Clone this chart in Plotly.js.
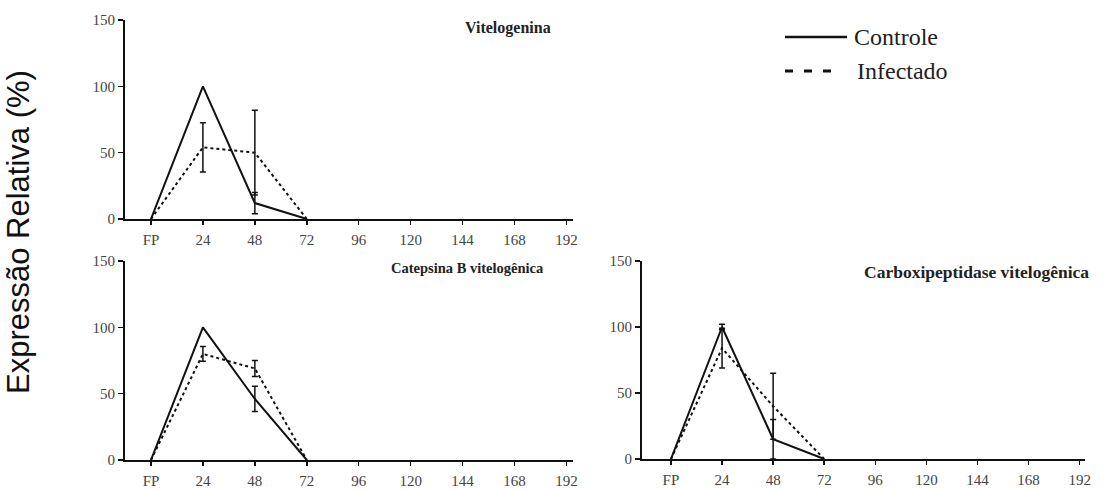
<!DOCTYPE html>
<html>
<head>
<meta charset="utf-8">
<script src="https://cdn.plot.ly/plotly-3.0.1.min.js"></script>
<style>html,body{margin:0;padding:0;background:#fff;}#chart{width:1112px;height:489px;}</style>
</head>
<body>
<div id="chart"></div>
<script>
// Hours after feeding (FP = 0)
const hours = [0, 24, 48, 72];
const tickVals = [0, 24, 48, 72, 96, 120, 144, 168, 192];
const tickText = ["FP", "24", "48", "72", "96", "120", "144", "168", "192"];
const yTicks = [0, 50, 100, 150];

// Vitelogenina (NaN = no error bar drawn)
const vitControle = [0, 100, 12, 0];
const vitControleErr = [NaN, NaN, 8, NaN];
const vitInfectado = [0, 54, 50, 0];
const vitInfectadoErr = [NaN, 18.5, 32, NaN];

// Catepsina B vitelogênica
const catControle = [0, 100, 46, 0];
const catControleErr = [NaN, NaN, 9.5, NaN];
const catInfectado = [0, 80, 69, 0];
const catInfectadoErr = [NaN, 5.5, 6, NaN];

// Carboxipeptidase vitelogênica
const carControle = [0, 100, 15, 0];
const carControleErr = [NaN, 2, 15, NaN];
const carInfectado = [0, 84, 40, 0];
const carInfectadoErr = [NaN, 15, 25, NaN];

const panelTitles = ["Vitelogenina", "Catepsina B vitelogênica", "Carboxipeptidase vitelogênica"];
const seriesNames = ["Controle", "Infectado"];
const yLabel = "Expressão Relativa (%)";

const W = 1112, H = 489;
const px = v => v / W;
const py = v => 1 - v / H;

function mk(x, y, err, dash, xa, ya, name) {
  return {
    type: 'scatter', mode: 'lines', x: x, y: y, name: name,
    xaxis: xa, yaxis: ya, showlegend: false,
    line: {color: '#111', width: 2, dash: dash ? '3px,3px' : 'solid'},
    error_y: {type: 'data', array: err, visible: true, color: '#111', thickness: 1.5, width: 3},
    cliponaxis: false
  };
}

const data = [
  mk(hours, vitControle, vitControleErr, false, 'x', 'y', seriesNames[0]),
  mk(hours, vitInfectado, vitInfectadoErr, true, 'x', 'y', seriesNames[1]),
  mk(hours, catControle, catControleErr, false, 'x2', 'y2', seriesNames[0]),
  mk(hours, catInfectado, catInfectadoErr, true, 'x2', 'y2', seriesNames[1]),
  mk(hours, carControle, carControleErr, false, 'x3', 'y3', seriesNames[0]),
  mk(hours, carInfectado, carInfectadoErr, true, 'x3', 'y3', seriesNames[1])
];

const tickFont = {family: 'Liberation Serif, Times New Roman, serif', size: 15, color: '#444'};
function xax(domain, range, anchor) {
  return {domain: domain, range: range, anchor: anchor, tickvals: tickVals, ticktext: tickText,
    showline: true, linewidth: 2, linecolor: '#111', ticks: 'outside', ticklen: 4, tickwidth: 1.5,
    tickcolor: '#111', showgrid: false, zeroline: false, tickfont: tickFont, ticklabelstandoff: 2, fixedrange: true};
}
function yax(domain, anchor) {
  return {domain: domain, range: [0, 150], anchor: anchor, tickvals: yTicks,
    showline: true, linewidth: 2, linecolor: '#111', ticks: 'outside', ticklen: 5, tickwidth: 1.5,
    tickcolor: '#111', showgrid: false, zeroline: false, tickfont: tickFont, fixedrange: true};
}

const serif = 'Liberation Serif, Times New Roman, serif';
const legFont = {family: serif, size: 24, color: '#222'};

const layout = {
  width: W, height: H,
  margin: {l: 0, r: 0, t: 0, b: 0},
  paper_bgcolor: '#fff', plot_bgcolor: '#fff',
  showlegend: false,
  xaxis: xax([px(125), px(573)], [-12, 195], 'y'),
  yaxis: yax([py(219), py(20)], 'x'),
  xaxis2: xax([px(125), px(573)], [-12, 195], 'y2'),
  yaxis2: yax([py(460), py(261)], 'x2'),
  xaxis3: xax([px(642), px(1085)], [-13.6, 194.5], 'y3'),
  yaxis3: yax([py(459), py(261)], 'x3'),
  annotations: [
    {text: '<b>' + panelTitles[0] + '</b>', xref: 'paper', yref: 'paper', x: px(553), y: py(28), xanchor: 'right', yanchor: 'middle', showarrow: false, font: {family: serif, size: 16, color: '#222'}},
    {text: '<b>' + panelTitles[1] + '</b>', xref: 'paper', yref: 'paper', x: px(546), y: py(268), xanchor: 'right', yanchor: 'middle', showarrow: false, font: {family: serif, size: 14.5, color: '#222'}},
    {text: '<b>' + panelTitles[2] + '</b>', xref: 'paper', yref: 'paper', x: px(1091), y: py(272), xanchor: 'right', yanchor: 'middle', showarrow: false, font: {family: serif, size: 17.5, color: '#222'}},
    {text: seriesNames[0], xref: 'paper', yref: 'paper', x: px(852), y: py(37), xanchor: 'left', yanchor: 'middle', showarrow: false, font: legFont},
    {text: seriesNames[1], xref: 'paper', yref: 'paper', x: px(855), y: py(71), xanchor: 'left', yanchor: 'middle', showarrow: false, font: legFont},
    {text: yLabel, xref: 'paper', yref: 'paper', x: px(18), y: py(232), xanchor: 'center', yanchor: 'middle', textangle: -90, showarrow: false,
     font: {family: 'Liberation Sans, Arial, sans-serif', size: 31, color: '#111'}}
  ],
  shapes: [
    {type: 'line', xref: 'paper', yref: 'paper', x0: px(785), x1: px(847), y0: py(37), y1: py(37), line: {color: '#111', width: 2.5}},
    {type: 'line', xref: 'paper', yref: 'paper', x0: px(785), x1: px(831), y0: py(71), y1: py(71), line: {color: '#111', width: 3, dash: '8px,11px'}}
  ]
};

Plotly.newPlot('chart', data, layout, {displayModeBar: false, staticPlot: true});
</script>
</body>
</html>
